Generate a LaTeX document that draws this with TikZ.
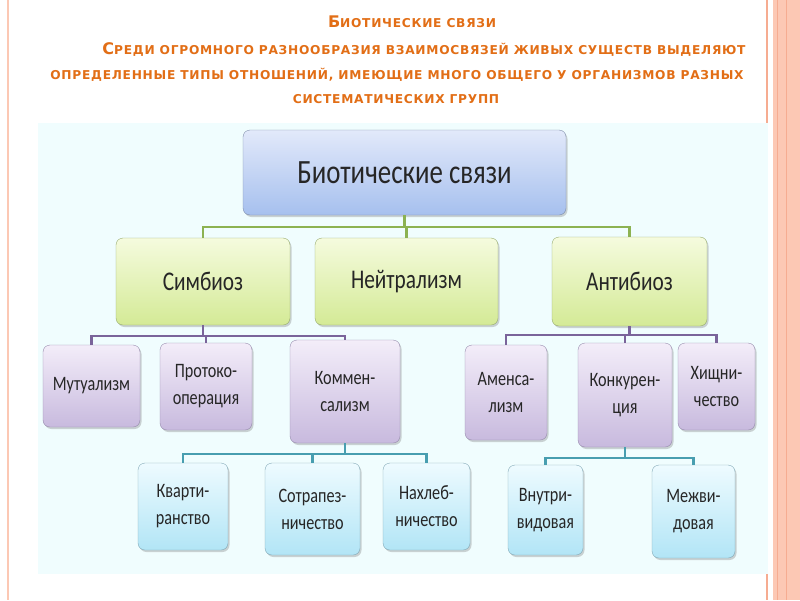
\documentclass[tikz,border=0pt]{standalone}
\usepackage{fontspec}
\setmainfont{Carlito}
\newfontfamily\boxfont[FakeStretch=0.79]{Carlito}
\newfontfamily\hdrfont[LetterSpace=6]{DejaVu Sans}
\usetikzlibrary{shadows}
\definecolor{hdr}{RGB}{226,110,22}
\definecolor{salmon}{RGB}{252,200,180}
\definecolor{salmonline}{RGB}{246,172,145}
\definecolor{panel}{RGB}{240,253,254}
\definecolor{rootT}{RGB}{226,233,250}
\definecolor{rootB}{RGB}{166,192,238}
\definecolor{rootD}{RGB}{128,142,170}
\definecolor{grnT}{RGB}{245,251,222}
\definecolor{grnB}{RGB}{212,234,150}
\definecolor{grnD}{RGB}{150,170,110}
\definecolor{purT}{RGB}{243,237,249}
\definecolor{purB}{RGB}{200,186,222}
\definecolor{purD}{RGB}{150,138,172}
\definecolor{cyaT}{RGB}{238,251,255}
\definecolor{cyaB}{RGB}{178,229,246}
\definecolor{cyaD}{RGB}{130,168,182}
\definecolor{gline}{RGB}{140,178,82}
\definecolor{pline}{RGB}{122,100,154}
\definecolor{tline}{RGB}{72,158,176}
\newcommand{\hbig}[1]{{\fontsize{16}{16}\selectfont #1}}
\newcommand{\hsm}[1]{{\fontsize{12.2}{14}\selectfont #1}}
\tikzset{
  box/.style={rounded corners=7pt, align=center, inner sep=0pt, text=black!85,
    drop shadow={shadow xshift=1.5pt, shadow yshift=-2pt, opacity=0.35}},
  rootbox/.style={box, draw=rootD, top color=rootT, bottom color=rootB, font=\boxfont\fontsize{34}{36}\selectfont},
  grnbox/.style={box, draw=grnD, top color=grnT, bottom color=grnB, font=\boxfont\fontsize{27}{30}\selectfont},
  purbox/.style={box, draw=purD, top color=purT, bottom color=purB, font=\boxfont\fontsize{20.5}{27}\selectfont},
  cyabox/.style={box, draw=cyaD, top color=cyaT, bottom color=cyaB, font=\boxfont\fontsize{20.5}{27}\selectfont},
  gconn/.style={draw=gline, line width=2.6pt},
  pconn/.style={draw=pline, line width=2.6pt},
  tconn/.style={draw=tline, line width=2.6pt},
  hdrtext/.style={text=hdr, inner sep=0pt, font=\hdrfont\bfseries}
}
\begin{document}
\begin{tikzpicture}[x=1pt,y=-1pt]
\useasboundingbox (0,0) rectangle (800,600);
\fill[white] (0,0) rectangle (800,600);
% decorative frame
\fill[salmon] (773,0) rectangle (800,600);
\draw[salmonline, line width=0.8pt] (777,0) -- (777,600);
\draw[salmonline, line width=0.8pt] (786,0) -- (786,600);
\draw[salmon, line width=2pt] (8,0) -- (8,600);
\draw[salmonline, line width=1.2pt] (767,0) -- (767,600);
% panel
\fill[panel] (38,123) rectangle (768,574);
% header
\node[hdrtext] (h1) at (412,22) {\hbig{Б}\hsm{ИОТИЧЕСКИЕ СВЯЗИ}};
\node[hdrtext] (h2) at (424,50) {\hbig{С}\hsm{РЕДИ ОГРОМНОГО РАЗНООБРАЗИЯ ВЗАИМОСВЯЗЕЙ ЖИВЫХ СУЩЕСТВ ВЫДЕЛЯЮТ}};
\node[hdrtext] (h3) at (397,75) {\hsm{ОПРЕДЕЛЕННЫЕ ТИПЫ ОТНОШЕНИЙ, ИМЕЮЩИЕ МНОГО ОБЩЕГО У ОРГАНИЗМОВ РАЗНЫХ}};
\node[hdrtext] (h4) at (396,99) {\hsm{СИСТЕМАТИЧЕСКИХ ГРУПП}};
% boxes
\node[rootbox, minimum width=323pt, minimum height=85pt] (root) at (404.5,172.5) {Биотические связи};
\node[grnbox, minimum width=174pt, minimum height=87pt] (sim) at (203,281.5) {Симбиоз};
\node[grnbox, minimum width=183pt, minimum height=87pt] (nei) at (406.5,281.5) {Нейтрализм};
\node[grnbox, minimum width=155pt, minimum height=89pt] (ant) at (629.5,281.5) {Антибиоз};
\node[purbox, minimum width=97pt, minimum height=82pt] (mut) at (91.5,386) {Мутуализм};
\node[purbox, minimum width=92pt, minimum height=87pt] (pro) at (206,386.5) {Протоко-\\операция};
\node[purbox, minimum width=110pt, minimum height=103pt] (kom) at (345,391.5) {Коммен-\\сализм};
\node[purbox, minimum width=82pt, minimum height=95pt] (ame) at (506,392.5) {Аменса-\\лизм};
\node[purbox, minimum width=94pt, minimum height=104pt] (kon) at (625,395) {Конкурен-\\ция};
\node[purbox, minimum width=77pt, minimum height=87pt] (hish) at (716.5,386.5) {Хищни-\\чество};
\node[cyabox, minimum width=90pt, minimum height=87pt] (kva) at (183,506.5) {Кварти-\\ранство};
\node[cyabox, minimum width=95pt, minimum height=92pt] (sot) at (312.5,509) {Сотрапез-\\ничество};
\node[cyabox, minimum width=87pt, minimum height=87pt] (nah) at (426.5,506.5) {Нахлеб-\\ничество};
\node[cyabox, minimum width=75pt, minimum height=90pt] (vnu) at (545.5,510) {Внутри-\\видовая};
\node[cyabox, minimum width=83pt, minimum height=93pt] (mez) at (693.5,511.5) {Межви-\\довая};
% connector levels
\coordinate (gbar) at (0,227);
\coordinate (pbar1) at (0,336);
\coordinate (pbar2) at (0,335);
\coordinate (tbar1) at (0,454);
\coordinate (tbar2) at (0,458);
\foreach \c in {sim,nei,ant}
  \draw[gconn] (root.south) -- (root.south |- gbar) -| (\c.north);
\foreach \c in {mut,pro,kom}
  \draw[pconn] (sim.south) -- (sim.south |- pbar1) -| (\c.north);
\foreach \c in {ame,kon,hish}
  \draw[pconn] (ant.south) -- (ant.south |- pbar2) -| (\c.north);
\foreach \c in {kva,sot,nah}
  \draw[tconn] (kom.south) -- (kom.south |- tbar1) -| (\c.north);
\foreach \c in {vnu,mez}
  \draw[tconn] (kon.south) -- (kon.south |- tbar2) -| (\c.north);
\end{tikzpicture}
\end{document}
